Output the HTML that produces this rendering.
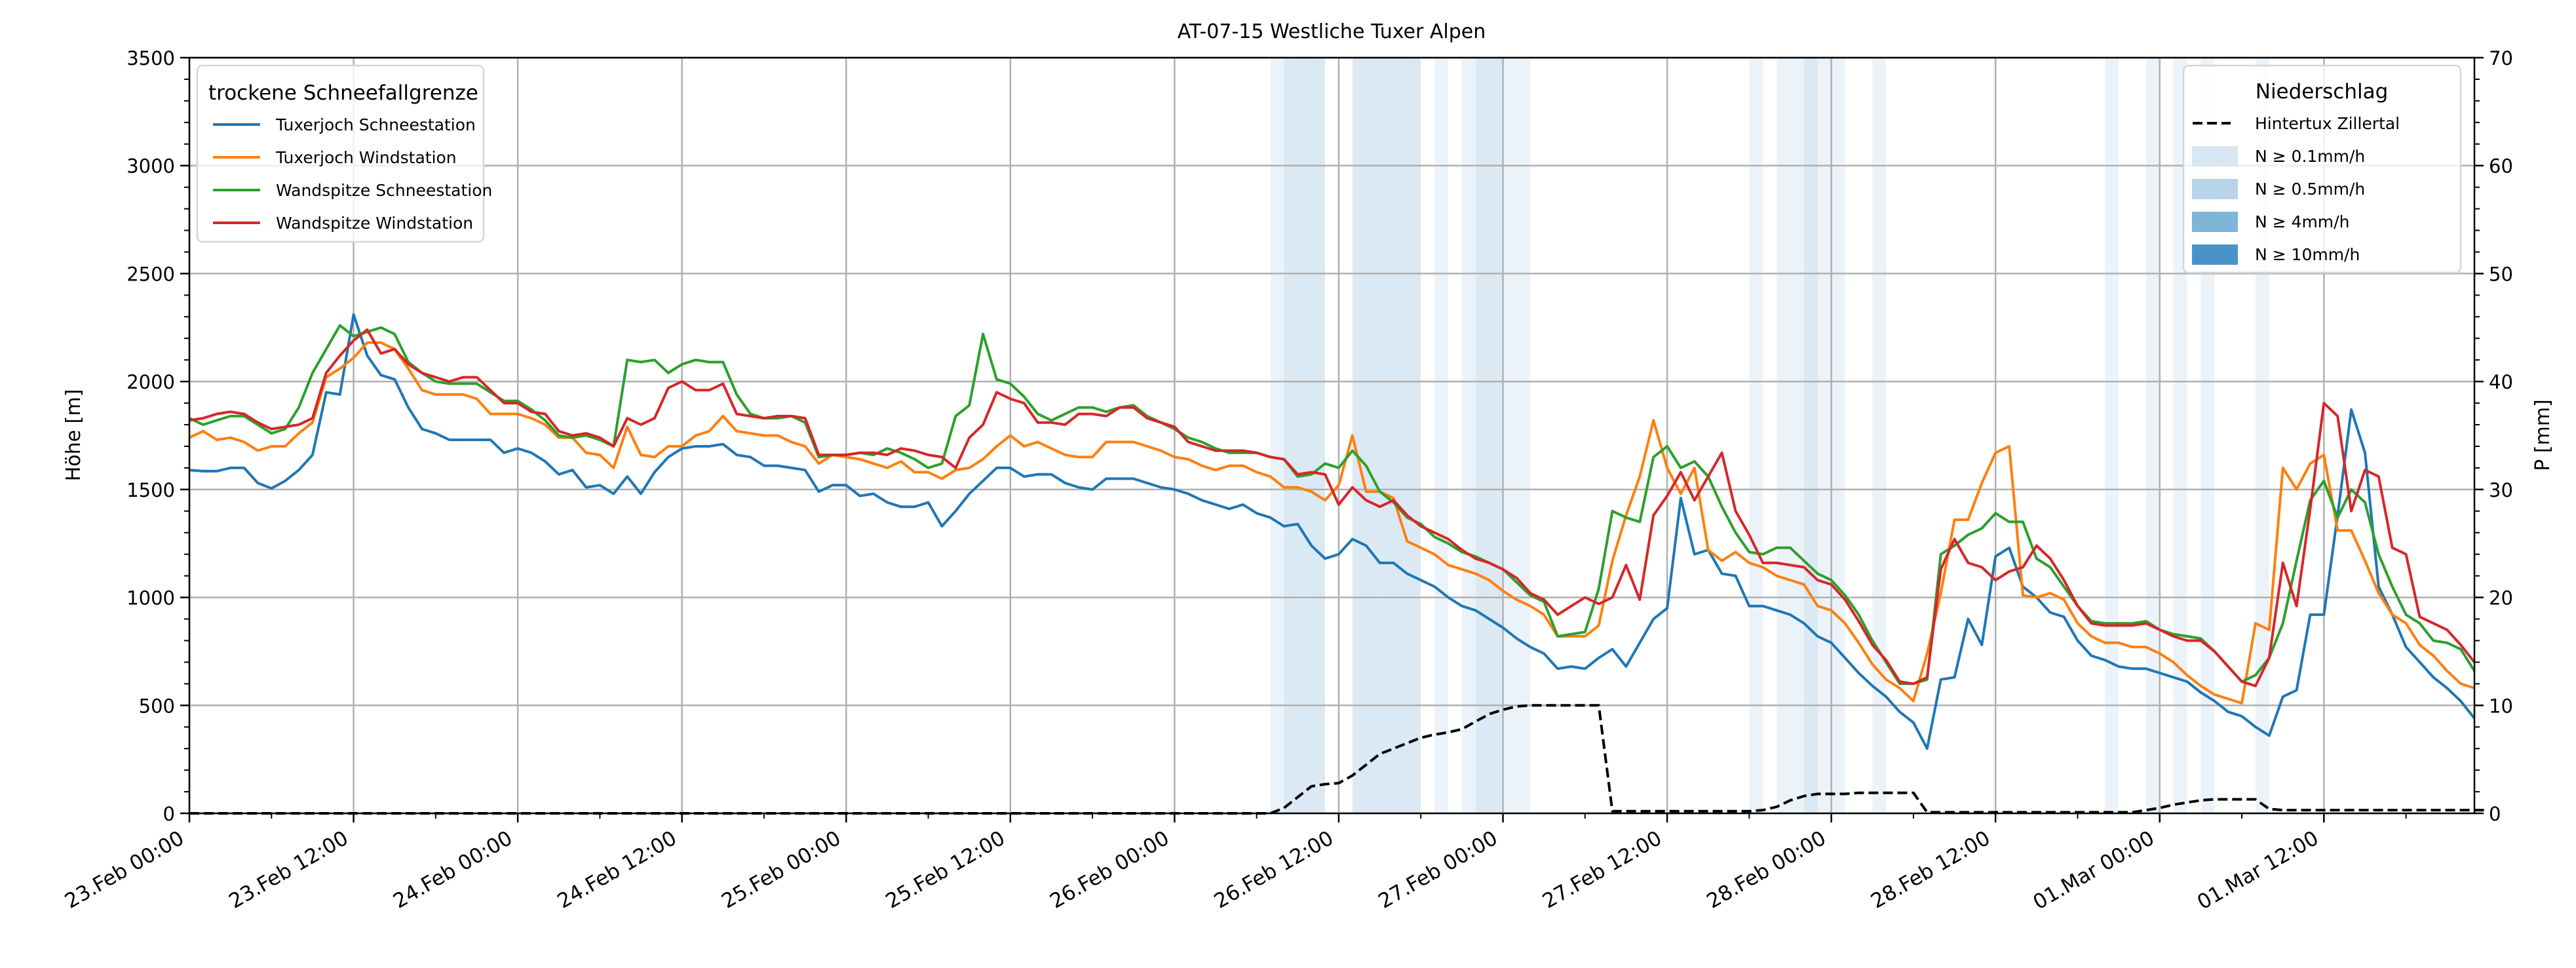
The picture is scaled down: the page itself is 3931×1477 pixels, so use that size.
<!DOCTYPE html>
<html><head><meta charset="utf-8"><style>
html,body{margin:0;padding:0;background:#fff;}
svg{display:block;font-family:"DejaVu Sans","Liberation Sans",sans-serif;}
</style></head><body>
<svg id="chart" width="3931" height="1477" viewBox="0 0 3931 1477" xmlns="http://www.w3.org/2000/svg">
<rect width="3931" height="1477" fill="#fff"/>
<g id="bands"></g><g id="grid"></g><g id="series"></g><g id="axes"></g>
<text x="2032" y="58" font-size="30" text-anchor="middle">AT-07-15 Westliche Tuxer Alpen</text>
<text transform="translate(122,664) rotate(-90)" font-size="30" text-anchor="middle">Höhe [m]</text>
<text transform="translate(3890,664) rotate(-90)" font-size="30" text-anchor="middle">P [mm]</text>
<g>
<rect x="301" y="100" width="437" height="269" rx="8" fill="#fff" fill-opacity="0.8" stroke="#d6d6d6" stroke-width="2.5"/>
<text x="318" y="152" font-size="31">trockene Schneefallgrenze</text>
<line x1="325" y1="190" x2="397" y2="190" stroke="#1f77b4" stroke-width="4"/><text x="421" y="199" font-size="25">Tuxerjoch Schneestation</text>
<line x1="325" y1="240" x2="397" y2="240" stroke="#ff7f0e" stroke-width="4"/><text x="421" y="249" font-size="25">Tuxerjoch Windstation</text>
<line x1="325" y1="290" x2="397" y2="290" stroke="#2ca02c" stroke-width="4"/><text x="421" y="299" font-size="25">Wandspitze Schneestation</text>
<line x1="325" y1="340" x2="397" y2="340" stroke="#d62728" stroke-width="4"/><text x="421" y="349" font-size="25">Wandspitze Windstation</text>
</g>
<g>
<rect x="3332" y="100" width="423" height="316" rx="8" fill="#fff" fill-opacity="0.8" stroke="#d6d6d6" stroke-width="2.5"/>
<text x="3543" y="150" font-size="31" text-anchor="middle">Niederschlag</text>
<line x1="3346" y1="188" x2="3404" y2="188" stroke="#000" stroke-width="4" stroke-dasharray="15,7"/><text x="3441" y="197" font-size="25">Hintertux Zillertal</text>
<rect x="3345" y="223" width="70" height="31" fill="#d8e7f3"/><text x="3441" y="247" font-size="25">N ≥ 0.1mm/h</text>
<rect x="3345" y="273" width="70" height="31" fill="#b8d4e9"/><text x="3441" y="297" font-size="25">N ≥ 0.5mm/h</text>
<rect x="3345" y="323" width="70" height="31" fill="#7fb6d8"/><text x="3441" y="347" font-size="25">N ≥ 4mm/h</text>
<rect x="3345" y="373" width="70" height="31" fill="#4a93c8"/><text x="3441" y="397" font-size="25">N ≥ 10mm/h</text>
</g>
</svg>
<script>
const xTickLabels=["23.Feb 00:00","23.Feb 12:00","24.Feb 00:00","24.Feb 12:00","25.Feb 00:00","25.Feb 12:00","26.Feb 00:00","26.Feb 12:00","27.Feb 00:00","27.Feb 12:00","28.Feb 00:00","28.Feb 12:00","01.Mar 00:00","01.Mar 12:00"];
const yTicks=[0,500,1000,1500,2000,2500,3000,3500];
const y2Ticks=[0,10,20,30,40,50,60,70];
const tuxSchnee=[1590,1585,1585,1600,1600,1530,1505,1540,1590,1660,1950,1940,2310,2120,2030,2010,1880,1780,1760,1730,1730,1730,1730,1670,1690,1670,1630,1570,1590,1510,1520,1480,1560,1480,1580,1650,1690,1700,1700,1710,1660,1650,1610,1610,1600,1590,1490,1520,1520,1470,1480,1440,1420,1420,1440,1330,1400,1480,1540,1600,1600,1560,1570,1570,1530,1510,1500,1550,1550,1550,1530,1510,1500,1480,1450,1430,1410,1430,1390,1370,1330,1340,1240,1180,1200,1270,1240,1160,1160,1110,1080,1050,1000,960,940,900,860,810,770,740,670,680,670,720,760,680,790,900,950,1460,1200,1220,1110,1100,960,960,940,920,880,820,790,720,650,590,540,470,420,300,620,630,900,780,1190,1230,1050,1000,930,910,800,730,710,680,670,670,650,630,610,560,520,470,450,400,360,540,570,920,920,1380,1870,1670,1050,920,770,700,630,580,520,440];
const tuxWind=[1740,1770,1730,1740,1720,1680,1700,1700,1760,1810,2020,2060,2110,2180,2180,2150,2060,1960,1940,1940,1940,1920,1850,1850,1850,1830,1800,1740,1740,1670,1660,1600,1790,1660,1650,1700,1700,1750,1770,1840,1770,1760,1750,1750,1720,1700,1620,1660,1650,1640,1620,1600,1630,1580,1580,1550,1590,1600,1640,1700,1750,1700,1720,1690,1660,1650,1650,1720,1720,1720,1700,1680,1650,1640,1610,1590,1610,1610,1580,1560,1510,1510,1490,1450,1520,1750,1490,1490,1460,1260,1230,1200,1150,1130,1110,1080,1030,990,960,920,820,820,820,870,1170,1380,1560,1820,1600,1480,1600,1220,1170,1210,1160,1140,1100,1080,1060,960,940,880,790,690,620,580,520,740,1020,1360,1360,1530,1670,1700,1010,1000,1020,990,880,820,790,790,770,770,740,700,640,590,550,530,510,880,850,1600,1500,1620,1660,1310,1310,1170,1020,920,880,780,730,660,600,580];
const wandSchnee=[1830,1800,1820,1840,1840,1800,1760,1780,1880,2040,2150,2260,2210,2230,2250,2220,2090,2040,2000,1990,1990,1990,1950,1910,1910,1870,1820,1750,1740,1750,1730,1700,2100,2090,2100,2040,2080,2100,2090,2090,1940,1850,1830,1830,1840,1810,1650,1660,1660,1670,1660,1690,1670,1640,1600,1620,1840,1890,2220,2010,1990,1930,1850,1820,1850,1880,1880,1860,1880,1890,1840,1810,1780,1740,1720,1690,1670,1670,1670,1650,1640,1560,1570,1620,1600,1680,1610,1490,1440,1370,1340,1280,1250,1210,1190,1160,1130,1070,1010,980,820,830,840,1040,1400,1370,1350,1650,1700,1600,1630,1560,1420,1300,1210,1200,1230,1230,1170,1110,1080,1010,920,800,700,600,600,620,1200,1240,1290,1320,1390,1350,1350,1180,1140,1050,960,890,880,880,880,890,850,830,820,810,750,680,610,640,720,880,1170,1450,1540,1370,1500,1440,1200,1050,920,880,800,790,760,660];
const wandWind=[1820,1830,1850,1860,1850,1810,1780,1790,1800,1830,2040,2120,2190,2240,2130,2150,2080,2040,2020,2000,2020,2020,1960,1900,1900,1860,1850,1770,1750,1760,1740,1700,1830,1800,1830,1970,2000,1960,1960,1990,1850,1840,1830,1840,1840,1830,1660,1660,1660,1670,1670,1660,1690,1680,1660,1650,1600,1740,1800,1950,1920,1900,1810,1810,1800,1850,1850,1840,1880,1880,1830,1810,1790,1720,1700,1680,1680,1680,1670,1650,1640,1570,1580,1570,1430,1510,1450,1420,1450,1380,1330,1300,1270,1220,1180,1160,1130,1090,1020,990,920,960,1000,970,1000,1150,990,1380,1470,1580,1450,1560,1670,1400,1290,1160,1160,1150,1140,1080,1060,990,890,780,710,610,600,630,1130,1270,1160,1140,1080,1120,1140,1240,1180,1080,960,880,870,870,870,880,850,820,800,800,750,680,610,590,720,1160,960,1410,1900,1840,1400,1590,1560,1230,1200,910,880,850,780,700];
const precipSum=[0,0,0,0,0,0,0,0,0,0,0,0,0,0,0,0,0,0,0,0,0,0,0,0,0,0,0,0,0,0,0,0,0,0,0,0,0,0,0,0,0,0,0,0,0,0,0,0,0,0,0,0,0,0,0,0,0,0,0,0,0,0,0,0,0,0,0,0,0,0,0,0,0,0,0,0,0,0,0,0,0.5,1.5,2.5,2.7,2.8,3.5,4.5,5.5,6,6.5,7,7.3,7.5,7.8,8.5,9.2,9.6,9.9,10,10,10,10,10,10,0.2,0.2,0.2,0.2,0.2,0.2,0.2,0.2,0.2,0.2,0.2,0.3,0.6,1.2,1.6,1.8,1.8,1.8,1.9,1.9,1.9,1.9,1.9,0.1,0.1,0.1,0.1,0.1,0.1,0.1,0.1,0.1,0.1,0.1,0.1,0.1,0.1,0.1,0.1,0.3,0.5,0.8,1.0,1.2,1.3,1.3,1.3,1.3,0.4,0.3,0.3,0.3,0.3,0.3,0.3,0.3,0.3,0.3,0.3,0.3,0.3,0.3,0.3,0.3,0.3];
const rainHours=[79,80,81,82,85,86,87,88,89,91,93,94,95,96,97,114,116,117,118,119,120,123,140,143,145,147,151];
const rainRates=[0.2,0.8,0.8,0.8,0.8,0.8,0.8,0.8,0.8,0.2,0.2,0.8,0.8,0.2,0.2,0.2,0.2,0.2,0.8,0.2,0.2,0.2,0.2,0.2,0.2,0.2,0.2];

const L=289,R=3776,T=88,B=1241,NH=167;
const xs=h=>L+h*(R-L)/NH;
const ys=v=>B-v*(B-T)/3500;
const ys2=v=>B-v*(B-T)/70;
const NS="http://www.w3.org/2000/svg";
function mk(tag,parent,attrs){const e=document.createElementNS(NS,tag);for(const k in attrs)e.setAttribute(k,attrs[k]);parent.appendChild(e);return e;}
const gB=document.getElementById('bands'),gG=document.getElementById('grid'),gS=document.getElementById('series'),gA=document.getElementById('axes');

rainHours.forEach((h,i)=>{const r=rainRates[i];
 let c=r>=10?'#4a93c8':r>=4?'#7fb6d8':r>=0.5?'#b8d4e9':'#d8e7f3';
 const e=mk('rect',gB,{x:xs(h),y:T,width:xs(h+1)-xs(h),height:B-T,fill:c,'fill-opacity':0.5});
 
 
});
xTickLabels.forEach((lab,i)=>{const x=xs(i*12);
 const g=mk('line',gG,{x1:x,y1:T,x2:x,y2:B,stroke:'#b0b0b0','stroke-width':2.5});
 
 
 mk('line',gA,{x1:x,y1:B,x2:x,y2:B+14,stroke:'#000','stroke-width':2.5});
 const tx=x-6,ty=B+44;
 const t=mk('text',gA,{x:tx,y:ty,'font-size':31,'text-anchor':'end',transform:`rotate(-30 ${tx} ${ty})`});
 t.textContent=lab;
 
 
});
for(let h=6;h<=NH;h+=12){mk('line',gA,{x1:xs(h),y1:B,x2:xs(h),y2:B+8,stroke:'#000','stroke-width':2});}
yTicks.forEach(v=>{const y=ys(v);
 const g=mk('line',gG,{x1:L,y1:y,x2:R,y2:y,stroke:'#b0b0b0','stroke-width':2.5});
 
 
 mk('line',gA,{x1:L-14,y1:y,x2:L,y2:y,stroke:'#000','stroke-width':2.5});
 const t=mk('text',gA,{x:L-22,y:y+11,'font-size':29,'text-anchor':'end'});t.textContent=v;
 
 
});
for(let v=100;v<3500;v+=100){if(v%500)mk('line',gA,{x1:L-8,y1:ys(v),x2:L,y2:ys(v),stroke:'#000','stroke-width':2});}
y2Ticks.forEach(v=>{const y=ys2(v);
 mk('line',gA,{x1:R,y1:y,x2:R+14,y2:y,stroke:'#000','stroke-width':2.5});
 const t=mk('text',gA,{x:R+22,y:y+11,'font-size':29});t.textContent=v;
 
 
});
for(let v=2;v<70;v+=2){if(v%10)mk('line',gA,{x1:R,y1:ys2(v),x2:R+8,y2:ys2(v),stroke:'#000','stroke-width':2});}
function line(arr,color,name,scale,dash){
 const d=arr.map((v,i)=>(i?'L':'M')+xs(i).toFixed(1)+','+scale(v).toFixed(1)).join('');
 const p=mk('path',gS,{d:d,fill:'none',stroke:color,'stroke-width':4,'stroke-linejoin':'round'});
 if(dash)p.setAttribute('stroke-dasharray',dash);
 
 
}
line(tuxSchnee,'#1f77b4','line-tuxerjoch-schneestation',ys);
line(tuxWind,'#ff7f0e','line-tuxerjoch-windstation',ys);
line(wandSchnee,'#2ca02c','line-wandspitze-schneestation',ys);
line(wandWind,'#d62728','line-wandspitze-windstation',ys);
line(precipSum,'#000','line-precip-hintertux',ys2,'15,7');
mk('rect',gA,{x:L,y:T,width:R-L,height:B-T,fill:'none',stroke:'#000','stroke-width':2.5});
</script>
</body></html>
